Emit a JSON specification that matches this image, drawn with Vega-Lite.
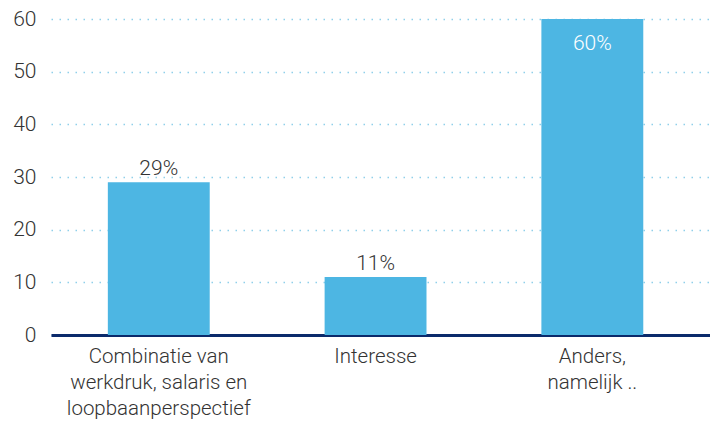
{
  "$schema": "https://vega.github.io/schema/vega-lite/v6.json",
  "width": 659,
  "height": 316,
  "autosize": {"type": "none"},
  "padding": {"left": 51, "top": 19, "right": 0, "bottom": 88},
  "background": "white",
  "config": {"view": {"stroke": null}, "font": "Roboto"},
  "data": {
    "values": [
      {"categorie": "Combinatie van\nwerkdruk, salaris en\nloopbaanperspectief", "waarde": 29, "label": "29%", "binnen": false},
      {"categorie": "Interesse", "waarde": 11, "label": "11%", "binnen": false},
      {"categorie": "Anders,\nnamelijk ..", "waarde": 60, "label": "60%", "binnen": true}
    ]
  },
  "encoding": {
    "x": {
      "field": "categorie",
      "type": "nominal",
      "sort": null,
      "scale": {"paddingInner": 0.53, "paddingOuter": 0.285, "align": 0.46},
      "axis": {
        "title": null,
        "labelAngle": 0,
        "labelExpr": "split(datum.label, '\\n')",
        "labelFont": "Roboto",
        "labelFontWeight": 300,
        "labelFontSize": 20.5,
        "labelLineHeight": 26,
        "labelColor": "#333333",
        "labelPadding": 11,
        "ticks": false,
        "domainColor": "#0b2a6b",
        "domainWidth": 3,
        "labelLimit": 300
      }
    },
    "y": {
      "field": "waarde",
      "type": "quantitative",
      "scale": {"domain": [0, 60], "nice": false},
      "axis": {
        "title": null,
        "values": [0, 10, 20, 30, 40, 50, 60],
        "domain": false,
        "ticks": false,
        "labelFont": "Roboto",
        "labelFontWeight": 300,
        "labelFontSize": 21,
        "labelColor": "#333333",
        "labelPadding": 15,
        "grid": true,
        "gridColor": "#8fd0ea",
        "gridDash": [1.5, 6.5],
        "gridWidth": 1.5
      }
    }
  },
  "layer": [
    {"mark": {"type": "bar", "color": "#4db6e3"}},
    {
      "transform": [{"filter": "!datum.binnen"}],
      "mark": {"type": "text", "dy": -13, "fontSize": 21, "fontWeight": 300, "color": "#333333", "font": "Roboto"},
      "encoding": {"text": {"field": "label"}}
    },
    {
      "transform": [{"filter": "datum.binnen"}],
      "mark": {"type": "text", "dy": 25, "fontSize": 21, "fontWeight": 300, "color": "#ffffff", "font": "Roboto"},
      "encoding": {"text": {"field": "label"}}
    }
  ]
}
